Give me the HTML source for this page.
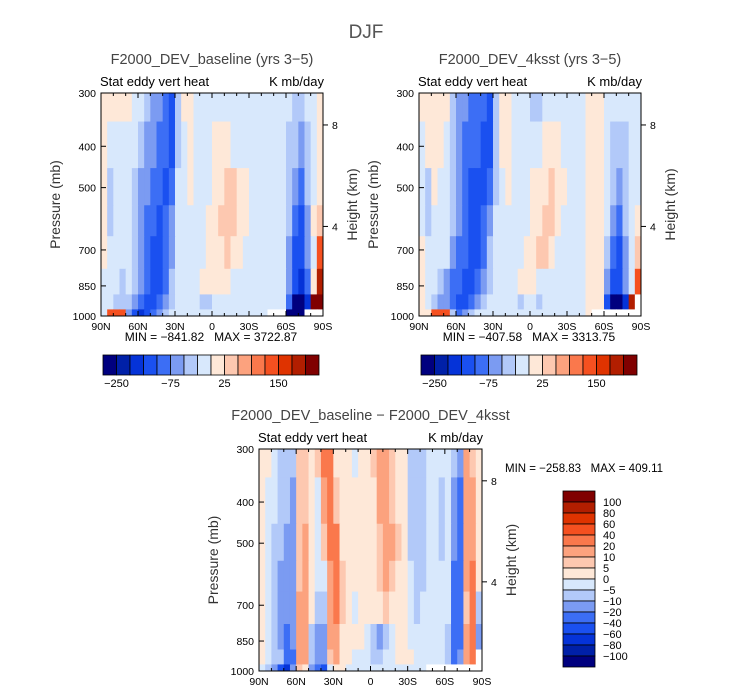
<!DOCTYPE html>
<html><head><meta charset="utf-8"><style>
html,body{margin:0;padding:0;background:#fff;}
svg{display:block;font-family:"Liberation Sans",sans-serif;}
svg text{white-space:pre;}
</style></head><body>
<svg id="root" width="733" height="695" viewBox="0 0 733 695">
<text x="366" y="38" font-size="19" fill="#555" text-anchor="middle">DJF</text>
</svg>
<script>
// ---------- data ----------
const pressureLevels = [300,400,500,600,700,850,925,1000];
const pressureBounds = [300,350,450,550,650,775,890,965,1000];
const latBands = 36; // 5-degree bands from 90N to 90S
const xTickLabels = ["90N","60N","30N","0","30S","60S","90S"];
const yTickValues = [300,400,500,700,850,1000];
const heightTickLabels = ["8","4"];
const heightTickPressures = [356.5,616.6];

const absLevels = [-250,-200,-150,-100,-75,-50,-25,0,25,50,75,100,150,200,250];
const absBarLabels = ["-250","-75","25","150"];
const diffLevels = [-100,-80,-60,-40,-20,-10,-5,0,5,10,20,40,60,80,100];
const diffBarLabels = ["100","80","60","40","20","10","5","0","-5","-10","-20","-40","-60","-80","-100"];
const colors = ["#00007f","#0020a8","#0533d8","#1a50f0","#3c6ef5","#7b9bf2","#b2c9f9","#d8e8fc","#fee8d8","#fdc8b0","#fca27e","#fa784c","#f55020","#df3300","#b21e00","#800000"];

const baseRow300 = [10,10,10,10,10,-10,-10,-40,-60,-60,-90,-125,-40,10,10,-10,-10,-10,-10,-10,-10,-10,-10,-10,-10,-10,-10,-10,-10,-10,-10,-40,-40,-10,-10,10];
const baseRow400 = [10,-10,-10,-10,-10,-10,-40,-60,-60,-90,-90,-125,-40,-10,10,-10,-10,-10,10,10,10,-10,-10,-10,-10,-10,-10,-10,-10,-10,-40,-40,-60,-40,-10,10];
const baseRow500 = [10,-40,-10,-10,-10,-40,-60,-60,-90,-90,-125,-90,-10,-10,10,-10,-10,-10,10,10,40,40,10,10,-10,-10,-10,-10,-10,-10,-40,-60,-90,-40,-10,10];
const baseRow600 = [10,-40,-10,-10,-10,-40,-60,-90,-90,-125,-90,-60,-10,-10,-10,-10,-10,10,10,40,40,40,10,10,-10,-10,-10,-10,-10,-10,-40,-90,-125,-60,10,40];
const baseRow700 = [10,-10,-10,-10,-10,-40,-60,-90,-125,-125,-90,-60,-10,-10,-10,-10,-10,10,10,10,40,10,10,-10,-10,-10,-10,-10,-10,-10,-60,-125,-125,-60,-10,100];
const baseRow850 = [-10,-10,-10,-40,-10,-40,-60,-90,-125,-125,-90,-40,-10,-10,-10,-10,10,10,10,10,10,-10,-10,-10,-10,-10,-10,-10,-10,-10,-60,-125,-175,-90,10,200];
const baseRow925 = [-10,-10,-40,-40,-40,-60,-90,-125,-125,-90,-60,-40,-10,-10,-10,-10,-40,-40,-10,-10,-10,-10,-10,-10,-10,-10,-10,-10,-10,-10,-90,-300,-300,-175,300,300];
const baseRow1000 = [-10,100,100,100,-60,-125,-175,-125,-90,-60,-40,-10,-10,-10,-10,-10,-10,-10,-10,-10,-10,-10,-10,-10,-10,-10,-10,NaN,NaN,NaN,-300,-300,-300,NaN,NaN,NaN];

const sstRow300 = [10,10,10,10,10,-40,-60,-60,-90,-90,-90,-125,-40,10,10,-10,-10,-10,-40,-40,-10,-10,-10,-10,-10,-10,-10,10,10,10,-10,-10,-10,-10,-10,-10];
const sstRow400 = [-10,10,10,10,-10,-40,-60,-90,-90,-90,-125,-125,-40,10,10,-10,-10,-10,-10,-10,10,10,10,-10,-10,-10,-10,10,10,10,-10,-40,-40,-40,-10,-10];
const sstRow500 = [-10,-40,10,-10,-10,-40,-60,-90,-125,-125,-125,-90,-40,-10,10,-10,-10,-10,10,10,10,40,10,10,-10,-10,-10,10,10,10,-10,-40,-60,-40,-10,-10];
const sstRow600 = [-10,-40,-10,-10,-10,-40,-60,-90,-125,-125,-90,-60,-10,-10,-10,-10,-10,-10,10,10,40,40,10,-10,-10,-10,-10,10,10,10,-10,-60,-90,-40,-10,10];
const sstRow700 = [10,-10,-10,-10,-10,-60,-90,-90,-125,-125,-90,-40,-10,-10,-10,-10,-10,10,10,40,40,10,-10,-10,-10,-10,-10,10,10,10,-40,-90,-125,-60,-10,40];
const sstRow850 = [10,-10,-10,-40,-60,-90,-90,-125,-125,-90,-60,-40,-10,-10,-10,-10,10,10,10,-10,-10,-10,-10,-10,-10,-10,-10,10,10,10,-60,-125,-125,-60,-10,100];
const sstRow925 = [10,-10,-40,-60,-60,-90,-125,-125,-90,-60,-40,-10,-10,-10,-10,-10,-40,-10,-10,-40,-10,-10,-10,-10,-10,-10,-10,10,10,10,-125,-300,-300,-175,200,NaN];
const sstRow1000 = [10,10,100,100,100,-40,-90,-60,-40,-10,-10,-10,-10,-10,-10,-10,-10,-10,-10,-10,-10,-10,-10,-10,-10,-10,-10,10,NaN,NaN,NaN,NaN,NaN,NaN,NaN,NaN];

const diffRow300 = [3,3,-2,-7,-7,-7,7,7,3,7,30,30,3,3,3,-2,3,3,7,15,15,7,3,3,-7,-7,-7,-2,-2,-2,-2,-7,-15,15,7,3];
const diffRow400 = [3,-2,-2,-7,-7,-15,7,7,3,-2,15,30,7,3,3,3,3,3,3,15,15,7,3,3,-7,-7,-7,-2,-2,-7,-2,-15,-30,15,15,3];
const diffRow500 = [3,-2,-7,-7,-15,-15,7,15,3,-2,7,30,30,3,3,3,3,3,3,7,15,15,7,3,-7,-7,-7,-2,-2,-7,-2,-15,-30,15,15,3];
const diffRow600 = [3,-2,-7,-15,-15,-15,7,15,3,-2,-2,15,30,7,3,3,3,3,3,7,15,7,3,3,-2,-7,-7,-2,-2,-2,-2,-30,-30,15,30,3];
const diffRow700 = [3,-2,-7,-15,-15,-15,15,15,3,-7,-7,15,30,7,3,-2,3,3,3,3,7,3,3,3,-2,-7,-2,-2,-2,-2,-2,-30,-30,7,30,-7];
const diffRow850 = [3,-2,-7,-15,-30,-15,15,15,-7,-15,-15,15,15,3,3,3,3,-2,-7,-15,-7,-2,3,3,-2,-2,-2,-2,-2,-2,-7,-30,-30,15,30,-15];
const diffRow925 = [3,-2,-7,-7,-30,-30,15,15,-7,-15,-15,7,15,3,3,-2,-2,-2,-7,-7,-2,-2,3,3,3,-2,-2,-2,-2,-2,-7,-30,-15,15,30,NaN];
const diffRow1000 = [-2,-7,-15,-50,-70,-15,7,3,-15,-30,-50,-2,3,3,-2,-2,-2,-2,-2,-2,-2,-2,-2,-2,-2,-2,-2,NaN,NaN,NaN,NaN,NaN,NaN,NaN,NaN,NaN];

const baseField = [baseRow300,baseRow400,baseRow500,baseRow600,baseRow700,baseRow850,baseRow925,baseRow1000];
const sstField = [sstRow300,sstRow400,sstRow500,sstRow600,sstRow700,sstRow850,sstRow925,sstRow1000];
const diffField = [diffRow300,diffRow400,diffRow500,diffRow600,diffRow700,diffRow850,diffRow925,diffRow1000];

// ---------- drawing ----------
const NS = "http://www.w3.org/2000/svg";
const root = document.getElementById('root');
function mk(tag, attrs, parent, txt){
  const e = document.createElementNS(NS, tag);
  for (const k in attrs) e.setAttribute(k, attrs[k]);
  if (txt !== undefined) e.textContent = txt;
  (parent||root).appendChild(e);
  return e;
}
function colorFor(v, levels){
  let i = 0;
  while (i < levels.length && v >= levels[i]) i++;
  return colors[i];
}

function drawPanel(P){
  const g = mk('g', {});
  
  
  const xS = lat => P.x0 + (90 - lat) / 180 * (P.x1 - P.x0);
  const yS = p => P.y0 + (Math.log(p) - Math.log(300)) / Math.log(1000/300) * (P.y1 - P.y0);
  const bw = (P.x1 - P.x0) / latBands;
  P.field.forEach((row, r) => {
    const yt = yS(pressureBounds[r]), yb = yS(pressureBounds[r+1]);
    row.forEach((v, c) => {
      const lat = 90 - c*5;
      const x = xS(lat);
      const fill = isNaN(v) ? '#ffffff' : colorFor(v, P.levels);
      const w = Math.min(bw + 0.6, P.x1 - x);
      const rc = mk('rect', {x:x.toFixed(2), y:yt.toFixed(2), width:w.toFixed(2), height:Math.min(yb-yt+0.6, P.y1-yt).toFixed(2), fill:fill}, g);
      
      
    });
  });
  const fr = mk('rect', {x:P.x0, y:P.y0, width:P.x1-P.x0, height:P.y1-P.y0, fill:'none', stroke:'#000', 'stroke-width':1}, g);
  
  
  for (let lat = 90; lat >= -90; lat -= 10){
    const x = xS(lat), major = (lat % 30 === 0);
    const L = major ? 5 : 3;
    mk('line', {x1:x, x2:x, y1:P.y1, y2:P.y1-L, stroke:'#000'}, g);
    mk('line', {x1:x, x2:x, y1:P.y0, y2:P.y0+L, stroke:'#000'}, g);
  }
  xTickLabels.forEach((lab, i) => {
    const t = mk('text', {x:xS(90 - i*30), y:P.y1+14, 'font-size':10.5, 'text-anchor':'middle', fill:'#000'}, g, lab);
    
    
  });
  yTickValues.forEach(p => {
    const y = yS(p);
    mk('line', {x1:P.x0, x2:P.x0+5, y1:y, y2:y, stroke:'#000'}, g);
    const t = mk('text', {x:P.x0-5, y:y+4, 'font-size':10.5, 'text-anchor':'end', fill:'#000'}, g, String(p));
    
    
  });
  heightTickPressures.forEach((p, i) => {
    const y = yS(p);
    mk('line', {x1:P.x1, x2:P.x1+5, y1:y, y2:y, stroke:'#000'}, g);
    const t = mk('text', {x:P.x1+9, y:y+4, 'font-size':10.5, fill:'#000'}, g, heightTickLabels[i]);
    
    
  });
  const ym = (P.y0 + P.y1)/2;
  const yl = mk('text', {x:0, y:0, 'font-size':14, 'text-anchor':'middle', fill:'#333', transform:`translate(${P.x0-41},${ym}) rotate(-90)`}, g, 'Pressure (mb)');
  
  
  const hl = mk('text', {x:0, y:0, 'font-size':14, 'text-anchor':'middle', fill:'#333', transform:`translate(${P.x1+34},${ym}) rotate(-90)`}, g, 'Height (km)');
  
  
  const st = mk('text', {x:P.x0-1, y:P.y0-7, 'font-size':13, fill:'#000'}, g, 'Stat eddy vert heat');
  
  
  const un = mk('text', {x:P.x1+1, y:P.y0-7, 'font-size':13, 'text-anchor':'end', fill:'#000'}, g, 'K mb/day');
  
  
  const ti = mk('text', {x:(P.x0+P.x1)/2, y:P.y0-29, 'font-size':14.5, 'text-anchor':'middle', fill:'#444'}, g, P.title);
  
  
}

function drawHBar(x0, y0, w, h, name, mintxt, labelX){
  const g = mk('g', {});
  
  
  const bw = w/colors.length;
  colors.forEach((c, i) => {
    const r = mk('rect', {x:x0+i*bw, y:y0, width:bw, height:h, fill:c, stroke:'#000', 'stroke-width':0.8}, g);
    
    
  });
  absBarLabels.forEach((lab, i) => {
    const k = 1 + i*4;
    const t = mk('text', {x:x0+k*bw, y:y0+h+12, 'font-size':11, 'text-anchor':'middle', fill:'#000'}, g, lab.replace('-', '\u2212'));
    
    
  });
  const m = mk('text', {x:labelX, y:y0-14, 'font-size':12, 'text-anchor':'middle', fill:'#000'}, g, mintxt);
  
  
}

drawPanel({name:'panel-baseline', x0:101, x1:323, y0:93, y1:316, field:baseField, levels:absLevels, title:'F2000_DEV_baseline (yrs 3\u22125)'});
drawPanel({name:'panel-4ksst', x0:419, x1:641, y0:93, y1:316, field:sstField, levels:absLevels, title:'F2000_DEV_4ksst (yrs 3\u22125)'});
drawPanel({name:'panel-difference', x0:259, x1:482, y0:449, y1:671, field:diffField, levels:diffLevels, title:'F2000_DEV_baseline \u2212 F2000_DEV_4ksst'});

drawHBar(103, 355, 216, 20, 'colorbar-baseline', 'MIN = \u2212841.82   MAX = 3722.87', 211);
drawHBar(421, 355, 216, 20, 'colorbar-4ksst', 'MIN = \u2212407.58   MAX = 3313.75', 529);

(function(){
  const g = mk('g', {});
  
  
  const x0 = 563, y0 = 491, w = 32, h = 176, bh = h/colors.length;
  colors.slice().reverse().forEach((c, i) => {
    const r = mk('rect', {x:x0, y:y0+i*bh, width:w, height:bh, fill:c, stroke:'#000', 'stroke-width':0.8}, g);
    
    
  });
  diffBarLabels.forEach((lab, i) => {
    const t = mk('text', {x:x0+w+8, y:y0+(i+1)*bh+4, 'font-size':11, fill:'#000'}, g, lab.replace('-', '\u2212'));
    
    
  });
  const m = mk('text', {x:505, y:472, 'font-size':11.5, fill:'#000'}, g, 'MIN = \u2212258.83   MAX = 409.11');
  
  
})();
</script>
</body></html>
